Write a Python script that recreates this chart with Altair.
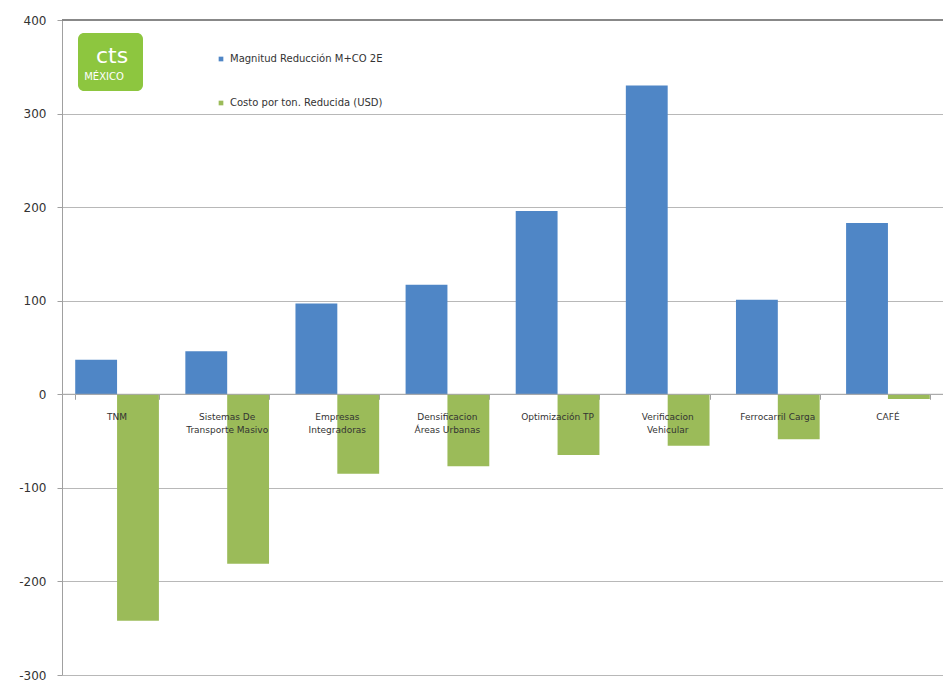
import altair as alt
import pandas as pd

categories = ["TNM", "Sistemas De\nTransporte Masivo", "Empresas\nIntegradoras",
              "Densificacion\nÁreas Urbanas", "Optimización TP", "Verificacion\nVehicular",
              "Ferrocarril Carga", "CAFÉ"]
magnitud = [37, 46, 97, 117, 196, 330, 101, 183]
costo = [-242, -181, -85, -77, -65, -55, -48, -5]
series_names = ["Magnitud Reducción M+CO   2E", "Costo por ton. Reducida (USD)"]
colors = ["#4f86c6", "#9bbb59"]

rows = []
for i, c in enumerate(categories):
    rows.append({"cat": c, "serie": series_names[0], "valor": magnitud[i]})
    rows.append({"cat": c, "serie": series_names[1], "valor": costo[i]})
df = pd.DataFrame(rows)
labels_df = pd.DataFrame({"cat": categories, "zero": [0] * len(categories)})

W, H = 881, 655
YMIN, YMAX = -300, 400
xscale = alt.Scale(domain=categories, paddingInner=0.24, paddingOuter=0.12)
yscale = alt.Scale(domain=[YMIN, YMAX], nice=False)
zero_offset = -H * (0 - YMIN) / (YMAX - YMIN)

base = alt.Chart(df)

bars = base.mark_bar().encode(
    x=alt.X("cat:N", scale=xscale, sort=categories,
            axis=alt.Axis(title=None, labels=False, domain=False, tickBand="extent",
                          tickSize=5, tickColor="#a0a0a0", offset=zero_offset, grid=False)),
    xOffset=alt.XOffset("serie:N", sort=series_names, scale=alt.Scale(paddingInner=0, paddingOuter=0)),
    y=alt.Y("valor:Q", scale=yscale,
            axis=alt.Axis(values=[-300, -200, -100, 0, 100, 200, 300, 400], title=None,
                          labelExpr="toString(datum.value)",
                          labelFontSize=12, labelColor="#333333", labelFont="DejaVu Sans",
                          gridColor="#b8b8b8", gridWidth=1, domainColor="#a0a0a0",
                          tickColor="#a0a0a0", tickSize=5, labelPadding=11)),
    color=alt.Color("serie:N", sort=series_names,
                    scale=alt.Scale(domain=series_names, range=colors),
                    legend=alt.Legend(title=None, orient="none", legendX=154, legendY=34,
                                      symbolType="square", symbolSize=22, labelFontSize=10,
                                      labelColor="#333333", labelFont="DejaVu Sans",
                                      rowPadding=34, symbolStrokeWidth=0)),
)

zero_rule = alt.Chart(pd.DataFrame({"z": [0]})).mark_rule(color="#a8a8a8", strokeWidth=1).encode(
    y=alt.Y("z:Q", scale=yscale)
)

top_rule = alt.Chart(pd.DataFrame({"z": [400]})).mark_rule(color="#888888", strokeWidth=2).encode(
    y=alt.Y("z:Q", scale=yscale)
)

cat_labels = alt.Chart(labels_df).mark_text(
    fontSize=9, color="#333333", font="DejaVu Sans", baseline="top", dy=19, lineBreak="\n",
    lineHeight=13
).encode(
    x=alt.X("cat:N", scale=xscale, sort=categories, bandPosition=0.5),
    y=alt.Y("zero:Q", scale=yscale),
    text="cat:N",
)

logo_bg = alt.Chart(pd.DataFrame({"a": [1]})).mark_rect(color="#8dc63f", cornerRadius=6).encode(
    x=alt.value(16), x2=alt.value(81), y=alt.value(13), y2=alt.value(71)
)
logo_cts = alt.Chart(pd.DataFrame({"a": [1]})).mark_text(
    text="cts", color="white", fontSize=22, font="DejaVu Sans", align="center"
).encode(x=alt.value(50), y=alt.value(36))
logo_mex = alt.Chart(pd.DataFrame({"a": [1]})).mark_text(
    text="MÉXICO", color="white", fontSize=10, font="DejaVu Sans", align="center"
).encode(x=alt.value(42), y=alt.value(57))

chart = alt.layer(bars, zero_rule, top_rule, cat_labels, logo_bg, logo_cts, logo_mex).properties(
    width=W, height=H,
    autosize=alt.AutoSizeParams(type="none"),
    padding={"left": 54, "top": 12, "right": 0, "bottom": 10},
    background="white",
).configure_view(stroke=None)

chart.save("out.html", embed_options={"renderer": "svg", "actions": False})
